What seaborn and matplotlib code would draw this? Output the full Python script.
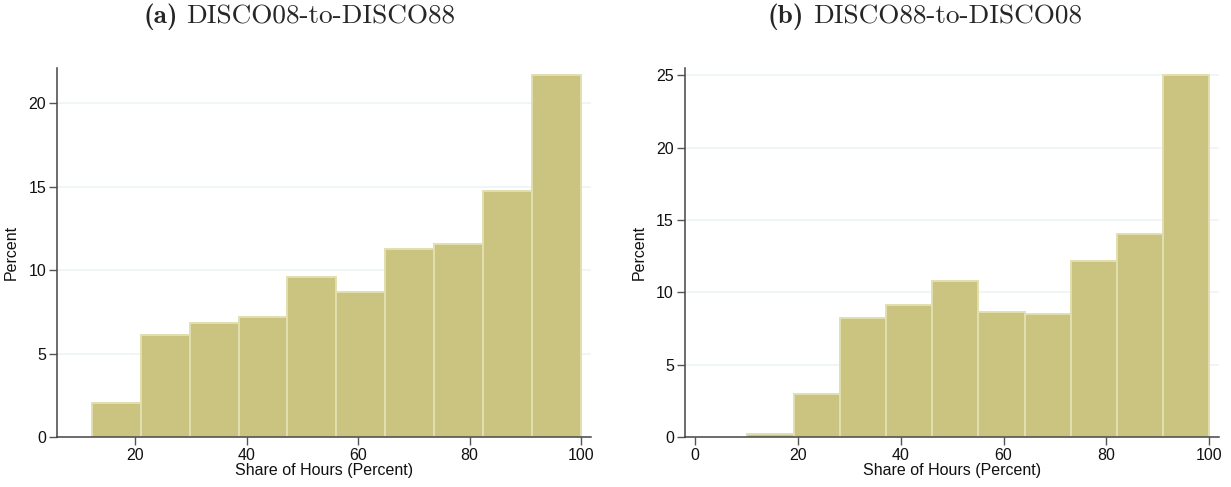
import matplotlib
matplotlib.use("Agg")
import matplotlib.pyplot as plt
import seaborn as sns
import numpy as np

# ---- data ----
edges_a = [12.2, 21.0, 29.8, 38.6, 47.3, 56.1, 64.9, 73.7, 82.4, 91.2, 100.0]
pct_a = [2.05, 6.15, 6.82, 7.2, 9.58, 8.67, 11.3, 11.55, 14.72, 21.72]

edges_b = [10.2, 19.2, 28.2, 37.2, 46.1, 55.1, 64.1, 73.1, 82.0, 91.0, 100.0]
pct_b = [0.2, 3.02, 8.22, 9.12, 10.78, 8.63, 8.5, 12.2, 14.0, 24.98]

yticks_a = [0, 5, 10, 15, 20]
yticks_b = [0, 5, 10, 15, 20, 25]
xticks_a = [20, 40, 60, 80, 100]
xticks_b = [0, 20, 40, 60, 80, 100]

tag_a, title_a = "(a)", "DISCO08-to-DISCO88"
tag_b, title_b = "(b)", "DISCO88-to-DISCO08"
xlabel = "Share of Hours (Percent)"
ylabel = "Percent"

sns.set_theme(style="white")
plt.rcParams["font.family"] = ["Liberation Sans", "DejaVu Sans"]

fill = "#cbc480"
edge = "#e2dfb0"
grid = "#edf3f4"
spine = "#444444"

fig = plt.figure(figsize=(12.31, 4.87), dpi=100)
ax_a = fig.add_axes([57.3 / 1231, 1 - 437.3 / 487, (590.7 - 57.3) / 1231, (437.3 - 68) / 487])
ax_b = fig.add_axes([685 / 1231, 1 - 437.3 / 487, (1218.7 - 685) / 1231, (437.3 - 68) / 487])


def draw(ax, edges, pct, xt, yt, xlim, ylim):
    centers = [(edges[i] + edges[i + 1]) / 2 for i in range(len(pct))]
    sns.histplot(x=centers, weights=pct, bins=edges, ax=ax, color=fill,
                 edgecolor=edge, linewidth=1.4, alpha=1, zorder=3)
    ax.set_xlim(*xlim)
    ax.set_ylim(*ylim)
    ax.set_xticks(xt)
    ax.set_yticks(yt)
    for y in yt[1:]:
        ax.axhline(y, color=grid, lw=1.2, zorder=1)
    for s in ["top", "right"]:
        ax.spines[s].set_visible(False)
    for s in ["left", "bottom"]:
        ax.spines[s].set_color(spine)
        ax.spines[s].set_linewidth(1.1)
        ax.spines[s].set_zorder(4)
    ax.tick_params(axis="both", which="major", bottom=True, left=True,
                   length=6, width=1.0, color="#555555", labelsize=11.5,
                   labelcolor="#111111", pad=2)
    ax.set_xlabel(xlabel, fontsize=11.5, color="#111111", labelpad=0)
    ax.set_ylabel(ylabel, fontsize=11.5, color="#111111", labelpad=7)


draw(ax_a, edges_a, pct_a, xticks_a, yticks_a, (6.06, 101.74), (0, 22.11))
draw(ax_b, edges_b, pct_b, xticks_b, yticks_b, (-1.94, 101.83), (0, 25.49))

renderer = fig.canvas.get_renderer()
ytitle = 1 - 17 / 487
for xstart, tag, title in [(143, tag_a, title_a), (768, tag_b, title_b)]:
    t1 = fig.text(xstart / 1231, ytitle, tag, ha="left", va="center",
                  fontsize=19.6, family="cmb10")
    bb = t1.get_window_extent(renderer)
    fig.text((bb.x1 + 9) / 1231, ytitle, title, ha="left", va="center",
             fontsize=19.6, family="cmr10")

fig.savefig("out.png", dpi=100, facecolor="white")
